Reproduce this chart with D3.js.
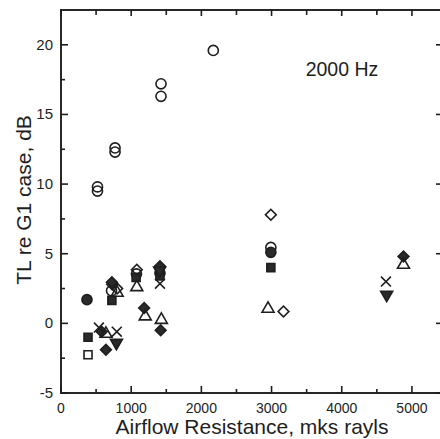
<!DOCTYPE html>
<html>
<head>
<meta charset="utf-8">
<script src="https://cdn.jsdelivr.net/npm/d3@7"></script>
<style>
  html, body { margin: 0; padding: 0; background: #fff; }
  svg { display: block; font-family: "Liberation Sans", Arial, sans-serif; }
</style>
</head>
<body>
<svg id="chart" width="440" height="439"></svg>
<script>
// ---- data ----
const xTicks = [0, 1000, 2000, 3000, 4000, 5000];
const yTicks = [-5, 0, 5, 10, 15, 20];
const annotation = "2000 Hz";
const xTitle = "Airflow Resistance, mks rayls";
const yTitle = "TL re G1 case, dB";

const openCircle   = [[520, 9.8], [520, 9.5], [770, 12.6], [770, 12.3], [1425, 17.2], [1425, 16.3], [2170, 19.6], [2990, 5.45], [720, 2.35], [1075, 3.55]];
const filledCircle = [[370, 1.7], [2990, 5.1], [1410, 3.6]];
const openSquare   = [[385, -2.25]];
const filledSquare = [[385, -1.0], [725, 1.65], [1070, 3.3], [1410, 3.4], [2990, 4.0]];
const openDiamond  = [[730, 2.8], [1080, 3.85], [2990, 7.8], [3170, 0.85], [800, 2.5]];
const filledDiamond= [[580, -0.6], [640, -1.9], [725, 2.95], [1185, 1.1], [1420, -0.5], [1410, 4.1], [4880, 4.8]];
const openTriangle = [[640, -0.75], [1080, 2.6], [1200, 0.5], [1430, 0.25], [2950, 1.05], [4880, 4.2], [800, 2.2]];
const filledTriDown= [[790, -1.4], [4640, 2.05], [1405, 3.8]];
const crossX       = [[540, -0.3], [795, -0.6], [1410, 2.85], [4630, 3.0]];

const series = [
  {data: openCircle,    type: d3.symbolCircle,   size: 80, fill: "none", rot: 0},
  {data: filledCircle,  type: d3.symbolCircle,   size: 80, fill: "#2a2a2a", rot: 0},
  {data: openSquare,    type: d3.symbolSquare,   size: 64, fill: "none", rot: 0},
  {data: filledSquare,  type: d3.symbolSquare,   size: 64, fill: "#2a2a2a", rot: 0},
  {data: openDiamond,   type: d3.symbolSquare,   size: 58, fill: "none", rot: 45},
  {data: filledDiamond, type: d3.symbolSquare,   size: 58, fill: "#2a2a2a", rot: 45},
  {data: openTriangle,  type: d3.symbolTriangle, size: 62, fill: "none", rot: 0},
  {data: filledTriDown, type: d3.symbolTriangle, size: 62, fill: "#2a2a2a", rot: 180},
  {data: crossX,        type: d3.symbolTimes,    size: 66, fill: "none", rot: 0}
];

// ---- layout ----
const svg = d3.select("#chart");
const L = 61, R = 440, T = 10, B = 393;
const x = d3.scaleLinear().domain([0, 5400]).range([L, R]);
const y = d3.scaleLinear().domain([-5, 22.5]).range([B, T]);
const ink = "#1e1e1e";

// frame
svg.append("rect").attr("x", L).attr("y", T).attr("width", R - L + 2).attr("height", B - T)
  .attr("fill", "none").attr("stroke", ink).attr("stroke-width", 1.9);

// ticks (inward)
const xMinor = d3.range(500, 5400, 1000);
const yMinor = d3.range(-2.5, 22.5, 5);
const g = svg.append("g").attr("stroke", ink).attr("stroke-width", 1.6);
xTicks.forEach(v => {
  g.append("line").attr("x1", x(v)).attr("x2", x(v)).attr("y1", B).attr("y2", B - 7);
  g.append("line").attr("x1", x(v)).attr("x2", x(v)).attr("y1", T).attr("y2", T + 6);
});
xMinor.forEach(v => {
  g.append("line").attr("x1", x(v)).attr("x2", x(v)).attr("y1", B).attr("y2", B - 4);
  g.append("line").attr("x1", x(v)).attr("x2", x(v)).attr("y1", T).attr("y2", T + 5);
});
yTicks.forEach(v => {
  g.append("line").attr("x1", L).attr("x2", L + 7).attr("y1", y(v)).attr("y2", y(v));
  g.append("line").attr("x1", R).attr("x2", R - 4).attr("y1", y(v)).attr("y2", y(v));
});
yMinor.forEach(v => {
  g.append("line").attr("x1", L).attr("x2", L + 4).attr("y1", y(v)).attr("y2", y(v));
});

// tick labels
svg.append("g").selectAll("text").data(xTicks).join("text")
  .attr("x", d => x(d)).attr("y", 413).attr("text-anchor", "middle")
  .attr("font-size", 14).attr("fill", ink).text(d => d);
svg.append("g").selectAll("text").data(yTicks).join("text")
  .attr("x", 53).attr("y", d => y(d) + 5).attr("text-anchor", "end")
  .attr("font-size", 15).attr("fill", ink).text(d => d);

// titles
svg.append("text").attr("x", 252).attr("y", 434).attr("text-anchor", "middle")
  .attr("font-size", 21).attr("fill", ink).text(xTitle);
svg.append("text").attr("transform", "translate(31,200) rotate(-90)").attr("text-anchor", "middle")
  .attr("font-size", 21).attr("fill", ink).text(yTitle);
svg.append("text").attr("x", 342).attr("y", 76).attr("text-anchor", "middle")
  .attr("font-size", 19.5).attr("fill", ink).text(annotation);

// markers
series.forEach(s => {
  const sym = d3.symbol().type(s.type).size(s.size);
  svg.append("g").selectAll("path").data(s.data).join("path")
    .attr("d", sym)
    .attr("transform", d => `translate(${x(d[0])},${y(d[1])}) rotate(${s.rot})`)
    .attr("fill", s.fill)
    .attr("stroke", ink)
    .attr("stroke-width", 1.6);
});
</script>
</body>
</html>
